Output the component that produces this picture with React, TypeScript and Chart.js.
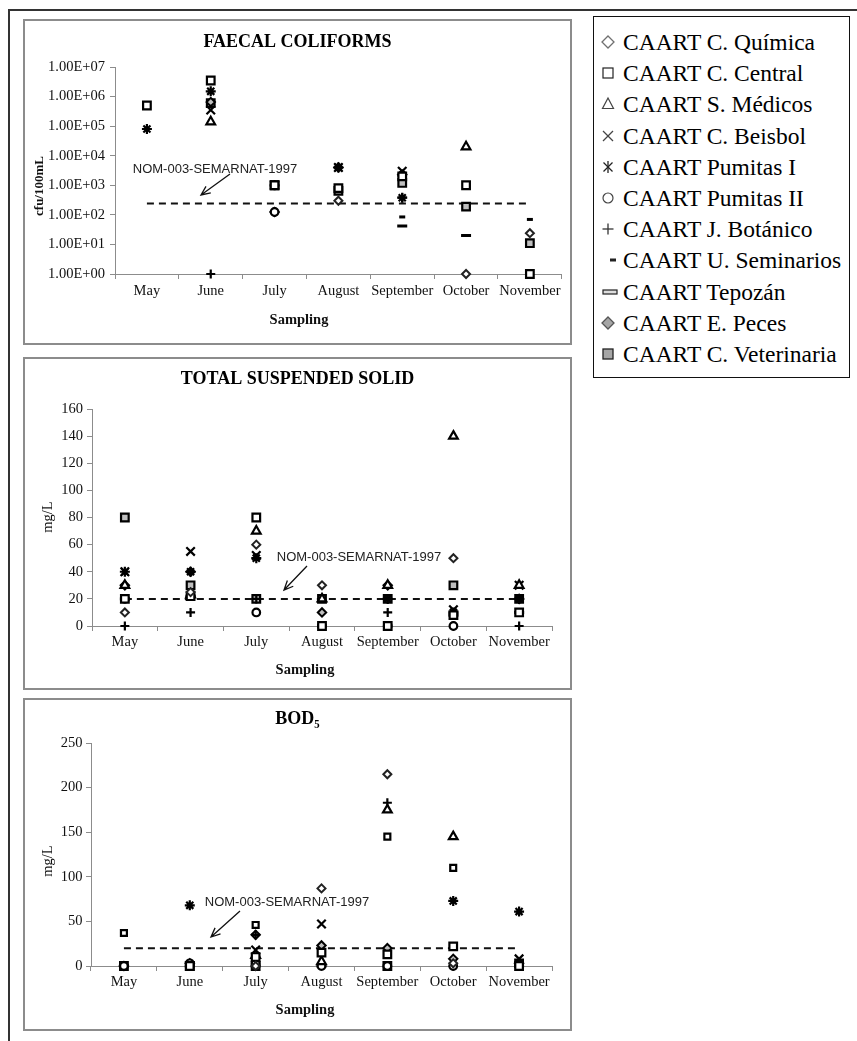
import React, { useEffect, useRef } from 'react';
import { Chart, registerables } from 'chart.js';

Chart.register(...registerables);

const SERIF = '"Liberation Serif", "Times New Roman", serif';
const SANS = '"Liberation Sans", Arial, sans-serif';
const AXIS = '#8c8c8c';

// ---------- categories / names ----------
const MONTHS = ['May', 'June', 'July', 'August', 'September', 'October', 'November'];
const STATIONS = [
  'CAART C. Química',
  'CAART C. Central',
  'CAART S. Médicos',
  'CAART C. Beisbol',
  'CAART Pumitas I',
  'CAART Pumitas II',
  'CAART J. Botánico',
  'CAART U. Seminarios',
  'CAART Tepozán',
  'CAART E. Peces',
  'CAART C. Veterinaria',
];
const LIMIT_LABEL = 'NOM-003-SEMARNAT-1997';

// ---------- Faecal coliforms (cfu/100mL) ----------
const fcQuimica = [null, null, null, 300, null, 1, 24];
const fcCentral = [500000, 3500000, 1000, 800, 2000, 1000, 1];
const fcMedicos = [null, 140000, null, null, null, 20000, null];
const fcBeisbol = [null, 350000, 1000, 4000, 3000, null, null];
const fcPumitas1 = [80000, 1500000, 1000, 4000, 380, null, null];
const fcPumitas2 = [null, null, 125, null, 2200, null, null];
const fcBotanico = [null, 1, 125, null, 380, null, null];
const fcSeminarios = [null, null, null, null, 85, null, 70];
const fcTepozan = [null, null, null, null, 42, 20, null];
const fcPeces = [null, 650000, 125, 4000, 2300, null, null];
const fcVeterinaria = [null, 600000, 1000, 650, 1200, 190, 11];
const FC_LIMIT = [240, 240, 240, 240, 240, 240, 240];
const FC_TICKS = [1, 10, 100, 1000, 10000, 100000, 1000000, 10000000];
const FC_TICK_LABELS = ['1.00E+00', '1.00E+01', '1.00E+02', '1.00E+03', '1.00E+04', '1.00E+05', '1.00E+06', '1.00E+07'];

// ---------- Total suspended solid (mg/L) ----------
const tssQuimica = [10, 25, 60, 30, null, 50, null];
const tssCentral = [20, 22, 80, 0, 0, 8, 10];
const tssMedicos = [30, 23, 70, 20, 30, 140, 30];
const tssBeisbol = [40, 55, 52, null, null, 12, 30];
const tssPumitas1 = [40, 40, 50, 0, 20, 10, 20];
const tssPumitas2 = [20, 22, 10, 0, 0, 0, null];
const tssBotanico = [0, 10, 20, 0, 10, 0, 0];
const tssSeminarios = [null, 22, 10, null, 20, 8, 10];
const tssTepozan = [20, 22, null, 0, null, 8, 10];
const tssPeces = [30, 40, null, 10, 30, null, 20];
const tssVeterinaria = [80, 30, 20, 20, 20, 30, 20];
const TSS_LIMIT = [20, 20, 20, 20, 20, 20, 20];

// ---------- BOD5 (mg/L) ----------
const bodQuimica = [null, null, 0, 87, 215, 3, null];
const bodCentral = [null, 0, 10, 15, 13, 22, 0];
const bodMedicos = [null, null, 12, 5, 175, 145, null];
const bodBeisbol = [null, null, 18, 47, null, null, 8];
const bodPumitas1 = [null, 68, null, null, null, 73, 61];
const bodPumitas2 = [0, 3, 3, 0, 0, 0, null];
const bodBotanico = [0, null, 35, null, 183, 0, null];
const bodSeminarios = [37, null, 46, null, 145, 110, null];
const bodTepozan = [0, 0, 0, 0, null, null, 0];
const bodPeces = [0, 3, 35, 23, 20, 8, 3];
const bodVeterinaria = [0, 0, 0, null, 0, null, 3];
const BOD_LIMIT = [20, 20, 20, 20, 20, 20, 20];

// ---------- marker styles ----------
const MARKERS: any[] = [
  { pointStyle: 'rectRot', radius: 4, bg: '#ffffff', border: '#222222', bw: 2 },
  { pointStyle: 'rect', radius: 5.4, bg: '#ffffff', border: '#000000', bw: 2.2 },
  { pointStyle: 'triangle', radius: 5, bg: '#ffffff', border: '#000000', bw: 2.2 },
  { pointStyle: 'crossRot', radius: 6, bg: '#000000', border: '#000000', bw: 2.2 },
  { pointStyle: 'star', radius: 5, bg: '#000000', border: '#000000', bw: 2.2 },
  { pointStyle: 'circle', radius: 3.8, bg: '#ffffff', border: '#000000', bw: 2.2 },
  { pointStyle: 'cross', radius: 4.5, bg: '#000000', border: '#000000', bw: 2.2 },
  { pointStyle: 'line', radius: 3, bg: '#000000', border: '#000000', bw: 3 },
  { pointStyle: 'line', radius: 5, bg: '#000000', border: '#000000', bw: 3 },
  { pointStyle: 'rectRot', radius: 4.2, bg: '#bfbfbf', border: '#000000', bw: 2 },
  { pointStyle: 'rect', radius: 5.4, bg: '#bfbfbf', border: '#000000', bw: 2.2 },
];

function arrow(ctx: any, x1: number, y1: number, x2: number, y2: number) {
  const a = Math.atan2(y2 - y1, x2 - x1);
  const L = 10;
  const sp = 0.42;
  ctx.beginPath();
  ctx.moveTo(x1, y1);
  ctx.lineTo(x2, y2);
  ctx.moveTo(x2 - L * Math.cos(a - sp), y2 - L * Math.sin(a - sp));
  ctx.lineTo(x2, y2);
  ctx.lineTo(x2 - L * Math.cos(a + sp), y2 - L * Math.sin(a + sp));
  ctx.stroke();
}

function decor(cfg: any) {
  return {
    id: 'decor',
    afterDraw(chart: any) {
      const ctx = chart.ctx;
      ctx.save();
      ctx.fillStyle = '#111';
      ctx.textAlign = 'center';
      ctx.textBaseline = 'middle';
      // y axis title
      ctx.save();
      ctx.translate(cfg.yTitle.x, cfg.yTitle.y);
      ctx.rotate(-Math.PI / 2);
      ctx.font = cfg.yTitle.font;
      ctx.fillText(cfg.yTitle.text, 0, 0);
      ctx.restore();
      // x axis title
      ctx.font = `bold 14.5px ${SERIF}`;
      ctx.fillText('Sampling', cfg.xTitle.x, cfg.xTitle.y);
      // limit annotation
      ctx.font = `13px ${SANS}`;
      ctx.fillStyle = '#222';
      ctx.fillText(LIMIT_LABEL, cfg.note.x, cfg.note.y);
      ctx.strokeStyle = '#111';
      ctx.lineWidth = 1.3;
      arrow(ctx, cfg.arrow[0], cfg.arrow[1], cfg.arrow[2], cfg.arrow[3]);
      ctx.restore();
    },
  };
}

function buildChart(canvas: HTMLCanvasElement, cfg: any) {
  const datasets: any[] = cfg.series.map((data: any[], i: number) => {
    const m = { ...MARKERS[i], ...((cfg.overrides && cfg.overrides[i]) || {}) };
    return {
      type: 'line',
      label: STATIONS[i],
      data,
      showLine: false,
      pointStyle: m.pointStyle,
      pointRadius: m.radius,
      pointHoverRadius: m.radius,
      pointBackgroundColor: m.bg,
      pointBorderColor: m.border,
      pointBorderWidth: m.bw,
      clip: false,
    };
  });
  datasets.push({
    type: 'line',
    label: LIMIT_LABEL,
    data: cfg.limit,
    borderColor: '#111',
    borderWidth: 2,
    borderDash: [7, 5],
    pointRadius: 0,
    fill: false,
    clip: false,
  });

  const tickFont = { family: SERIF, size: 14.5 };
  const yScale: any = {
    grid: { drawOnChartArea: false, drawTicks: true, tickLength: 5, color: AXIS },
    border: { color: AXIS, width: 1 },
    ticks: { font: tickFont, color: '#111', padding: cfg.yTickPad },
    afterFit: (s: any) => { s.width = cfg.yWidth; },
  };
  if (cfg.log) {
    yScale.type = 'logarithmic';
    yScale.min = 1;
    yScale.max = 10000000;
    yScale.afterBuildTicks = (s: any) => { s.ticks = FC_TICKS.map((v) => ({ value: v })); };
    yScale.ticks.callback = (v: any) => {
      const idx = FC_TICKS.indexOf(Number(v));
      return idx >= 0 ? FC_TICK_LABELS[idx] : '';
    };
  } else {
    yScale.type = 'linear';
    yScale.min = 0;
    yScale.max = cfg.yMax;
    yScale.ticks.stepSize = cfg.yStep;
  }

  return new Chart(canvas, {
    type: 'line',
    data: { labels: MONTHS, datasets },
    options: {
      responsive: false,
      animation: false,
      events: [],
      layout: { padding: { left: cfg.padX, right: cfg.padX, top: 0, bottom: 0 } },
      plugins: {
        legend: { display: false },
        tooltip: { enabled: false },
        title: {
          display: true,
          text: cfg.title,
          color: '#000',
          font: { family: SERIF, size: 18, weight: 'bold' },
          padding: { top: cfg.titleTop, bottom: cfg.titleBottom },
        },
      },
      scales: {
        x: {
          type: 'category',
          offset: true,
          grid: { offset: true, drawOnChartArea: false, drawTicks: true, tickLength: 5, color: AXIS },
          border: { color: AXIS, width: 1 },
          ticks: { font: tickFont, color: '#111', padding: cfg.xTickPad, maxRotation: 0, autoSkip: false },
          afterFit: (s: any) => { s.height = cfg.xHeight; },
        },
        y: yScale,
      },
    } as any,
    plugins: [decor(cfg)],
  } as any);
}

const FC_CFG = {
  title: 'FAECAL COLIFORMS',
  log: true,
  series: [fcQuimica, fcCentral, fcMedicos, fcBeisbol, fcPumitas1, fcPumitas2, fcBotanico, fcSeminarios, fcTepozan, fcPeces, fcVeterinaria],
  limit: FC_LIMIT,
  padX: 3,
  yWidth: 87,
  yTickPad: 5,
  xTickPad: 3,
  xHeight: 69,
  titleTop: 10.2,
  titleBottom: 14.2,
  yTitle: { text: 'cfu/100mL', x: 15, y: 165, font: `bold 13px ${SERIF}` },
  xTitle: { x: 274, y: 299 },
  note: { x: 190, y: 148 },
  arrow: [205, 153, 176, 174],
};

const TSS_CFG = {
  title: 'TOTAL SUSPENDED SOLID',
  log: false,
  yMax: 160,
  yStep: 20,
  series: [tssQuimica, tssCentral, tssMedicos, tssBeisbol, tssPumitas1, tssPumitas2, tssBotanico, tssSeminarios, tssTepozan, tssPeces, tssVeterinaria],
  limit: TSS_LIMIT,
  padX: 18,
  yWidth: 49,
  yTickPad: 4,
  xTickPad: 2,
  xHeight: 62,
  titleTop: 9.2,
  titleBottom: 19.2,
  yTitle: { text: 'mg/L', x: 23, y: 158, font: `14.5px ${SERIF}` },
  xTitle: { x: 280, y: 311 },
  note: { x: 334, y: 198 },
  arrow: [282, 207, 259, 231],
};

const BOD_CFG = {
  title: 'BOD₅',
  log: false,
  yMax: 250,
  yStep: 50,
  series: [bodQuimica, bodCentral, bodMedicos, bodBeisbol, bodPumitas1, bodPumitas2, bodBotanico, bodSeminarios, bodTepozan, bodPeces, bodVeterinaria],
  overrides: { 7: { pointStyle: 'rect', radius: 4.2, bg: '#ffffff', border: '#000000', bw: 2.2 } },
  limit: BOD_LIMIT,
  padX: 18,
  yWidth: 48,
  yTickPad: 3.5,
  xTickPad: 2,
  xHeight: 63,
  titleTop: 8.2,
  titleBottom: 13.2,
  yTitle: { text: 'mg/L', x: 23, y: 161, font: `14.5px ${SERIF}` },
  xTitle: { x: 280, y: 310 },
  note: { x: 262, y: 202 },
  arrow: [215, 211, 186, 237],
};

function ChartPanel({ cfg, top, height }: any) {
  const ref = useRef<HTMLCanvasElement | null>(null);
  useEffect(() => {
    if (!ref.current) return;
    const ch = buildChart(ref.current, cfg);
    return () => ch.destroy();
  }, [cfg]);
  return (
    <div
      style={{
        position: 'absolute',
        left: 23,
        top,
        width: 549,
        height,
        border: `2px solid ${AXIS}`,
        boxSizing: 'border-box',
        background: '#fff',
      }}
    >
      <canvas ref={ref} width={545} height={height - 4} style={{ display: 'block', width: 545, height: height - 4 }} />
    </div>
  );
}

function LegendMarker({ i }: { i: number }) {
  const cx = 15;
  const cy = 14;
  switch (i) {
    case 0:
      return <polygon points={`${cx},${cy - 6} ${cx + 6},${cy} ${cx},${cy + 6} ${cx - 6},${cy}`} fill="#fff" stroke="#707070" strokeWidth={1.3} />;
    case 1:
      return <rect x={cx - 5} y={cy - 5} width={10} height={10} fill="#fff" stroke="#222" strokeWidth={1.2} />;
    case 2:
      return <polygon points={`${cx},${cy - 6} ${cx + 5.5},${cy + 4.5} ${cx - 5.5},${cy + 4.5}`} fill="#fff" stroke="#444" strokeWidth={1.2} />;
    case 3:
      return (
        <g stroke="#444" strokeWidth={1.2}>
          <line x1={cx - 5} y1={cy - 5} x2={cx + 5} y2={cy + 5} />
          <line x1={cx - 5} y1={cy + 5} x2={cx + 5} y2={cy - 5} />
        </g>
      );
    case 4:
      return (
        <g stroke="#222" strokeWidth={1.3}>
          <line x1={cx - 4.5} y1={cy - 4.5} x2={cx + 4.5} y2={cy + 4.5} />
          <line x1={cx - 4.5} y1={cy + 4.5} x2={cx + 4.5} y2={cy - 4.5} />
          <line x1={cx} y1={cy - 6} x2={cx} y2={cy + 6} />
        </g>
      );
    case 5:
      return <circle cx={cx} cy={cy} r={5} fill="#fff" stroke="#444" strokeWidth={1.2} />;
    case 6:
      return (
        <g stroke="#333" strokeWidth={1.3}>
          <line x1={cx - 5.5} y1={cy} x2={cx + 5.5} y2={cy} />
          <line x1={cx} y1={cy - 5.5} x2={cx} y2={cy + 5.5} />
        </g>
      );
    case 7:
      return <rect x={cx + 2} y={cy - 1.5} width={6} height={3} fill="#222" />;
    case 8:
      return <rect x={cx - 5} y={cy - 2} width={14} height={4} fill="#ddd" stroke="#222" strokeWidth={1.2} />;
    case 9:
      return <polygon points={`${cx},${cy - 6} ${cx + 6},${cy} ${cx},${cy + 6} ${cx - 6},${cy}`} fill="#a6a6a6" stroke="#555" strokeWidth={1.3} />;
    default:
      return <rect x={cx - 5} y={cy - 5} width={10} height={10} fill="#a6a6a6" stroke="#222" strokeWidth={1.3} />;
  }
}

function Legend() {
  return (
    <div
      style={{
        position: 'absolute',
        left: 593,
        top: 16,
        width: 257,
        height: 362,
        border: '1.5px solid #111',
        boxSizing: 'border-box',
        background: '#fff',
      }}
    >
      {STATIONS.map((name, i) => (
        <div
          key={name}
          style={{
            position: 'absolute',
            left: -1,
            top: 11 + i * 31.2,
            height: 28,
            display: 'flex',
            alignItems: 'center',
            whiteSpace: 'nowrap',
          }}
        >
          <svg width={30} height={28} style={{ display: 'block' }}>
            <LegendMarker i={i} />
          </svg>
          <span style={{ fontFamily: SERIF, fontSize: 23.5, color: '#000', lineHeight: '28px' }}>{name}</span>
        </div>
      ))}
    </div>
  );
}

export default function App() {
  return (
    <div style={{ position: 'absolute', left: 0, top: 0, width: 857, height: 1041, overflow: 'hidden', background: '#fff' }}>
      <div
        style={{
          position: 'absolute',
          left: 8,
          top: 9,
          width: 849,
          height: 1032,
          borderLeft: '2px solid #333',
          borderTop: '2px solid #333',
          boxSizing: 'border-box',
        }}
      />
      <ChartPanel cfg={FC_CFG} top={19} height={326} />
      <ChartPanel cfg={TSS_CFG} top={357} height={333} />
      <ChartPanel cfg={BOD_CFG} top={698} height={333} />
      <Legend />
    </div>
  );
}
